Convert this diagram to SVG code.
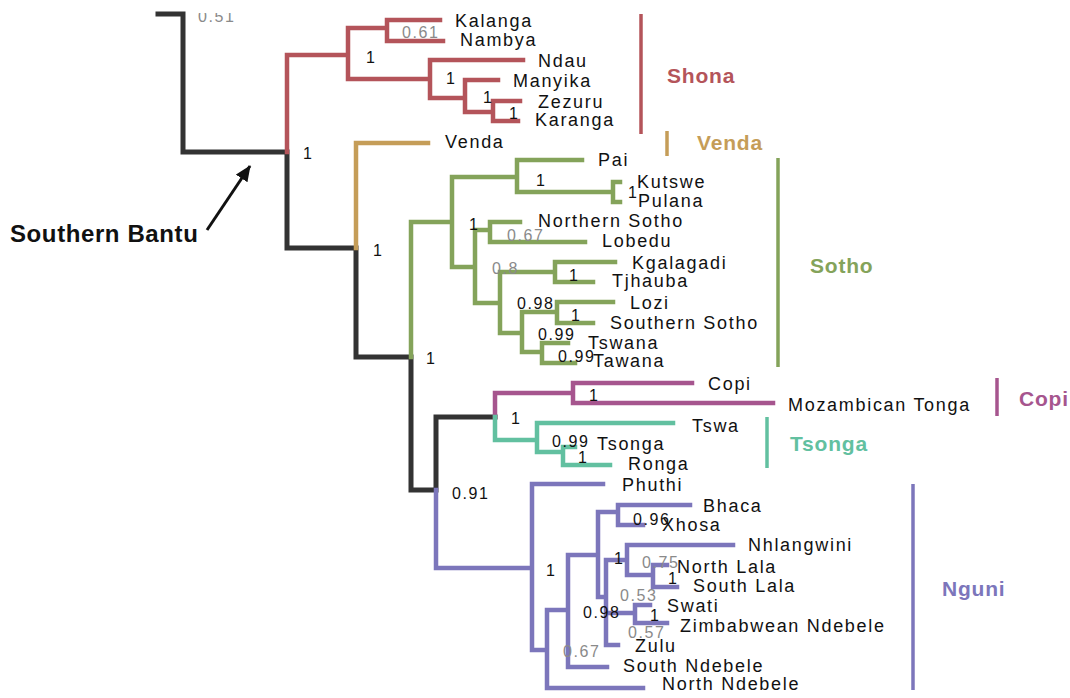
<svg xmlns="http://www.w3.org/2000/svg" width="1070" height="698" viewBox="0 0 1070 698">
<style>
.t{font-family:"Liberation Sans",Arial,sans-serif;font-size:18px;letter-spacing:1.7px;fill:#111}
.v{font-family:"Liberation Sans",Arial,sans-serif;font-size:16px;letter-spacing:1.6px;fill:#111}
.g{fill:#8a8a8a}
.b{font-family:"Liberation Sans",Arial,sans-serif;font-size:21px;font-weight:bold;letter-spacing:0.8px}
.e{fill:none;stroke-width:4.5;stroke-linecap:square;stroke-linejoin:miter}
.k{stroke:#333}
.r{stroke:#b4545a}
.n{stroke:#c59d58}
.gr{stroke:#84a35a}
.p{stroke:#a6558e}
.c{stroke:#62c0a0}
.u{stroke:#7c76bb}
.bar{stroke-width:3.5;fill:none}
</style>
<defs>
<clipPath id="topclip"><rect x="0" y="13" width="1070" height="690"/></clipPath>
<marker id="ah" markerUnits="userSpaceOnUse" markerWidth="18" markerHeight="18" refX="15" refY="7" orient="auto"><path d="M0,0 L16,7 L0,14 Z" fill="#111"/></marker>
</defs>
<rect width="1070" height="698" fill="#fff"/>

<g id="connectors">
<path class="e k" style="stroke-width:5" d="M158,14 H183 V152 H287 V248 H356 V357 H411 V490 H436 V417 H495"/>
<path class="e r" d="M287,152 V55 H348 M348,28 V79 M348,28 H387 M387,20 V41 M387,20 H440 M387,41 H443 M348,79 H430 M430,60 V98 M430,60 H523 M430,98 H465 M465,80 V112 M465,80 H498 M465,112 H493 M493,101 V121 M493,101 H520 M493,121 H518"/>
<path class="e n" d="M356,248 V143 H428"/>
<path class="e gr" d="M411,357 V222 H452 M452,177 V267 M452,177 H517 M517,160 V192 M517,160 H582 M517,192 H613 M613,182 V202 M613,182 H620 M613,202 H620 M452,267 H475 M475,230 V303 M475,230 H490 M490,222 V242 M490,222 H520 M490,242 H585 M475,303 H500 M500,272 V333 M500,272 H555 M555,262 V282 M555,262 H615 M555,282 H593 M500,333 H522 M522,312 V352 M522,312 H557 M557,302 V323 M557,302 H613 M557,323 H593 M522,352 H542 M542,343 V363 M542,343 H568 M542,363 H575"/>
<path class="e p" d="M495,417 V393 H573 M573,383 V403 M573,383 H692 M573,403 H773"/>
<path class="e c" d="M495,417 V440 H537 M537,423 V452 M537,423 H673 M537,452 H563 M563,447 V465 M563,447 H575 M563,465 H610"/>
<path class="e u" d="M436,490 V568 H532 M532,484 V650 M532,484 H603 M532,650 H547 M547,610 V688 M547,688 H643 M547,610 H568 M568,555 V667 M568,667 H607 M568,555 H598 M598,512 V597 M598,512 H618 M618,505 V525 M618,505 H690 M618,525 H643 M598,597 H606 M606,560 V645 M606,560 H627 M627,545 V575 M627,545 H733 M627,575 H653 M653,565 V587 M653,565 H667 M653,587 H677 M606,613 H635 M635,605 V623 M635,605 H650 M635,623 H667 M606,645 H618"/>
<path d="M207,230 L250,166" stroke="#111" stroke-width="3" marker-end="url(#ah)"/>
</g>

<g id="supports">
<text class="v g" x="198" y="22" clip-path="url(#topclip)">0.51</text>
<text class="v g" x="402" y="38">0.61</text>
<text class="v" x="366" y="63">1</text>
<text class="v" x="446" y="84">1</text>
<text class="v" x="483" y="103">1</text>
<text class="v" x="509" y="119">1</text>
<text class="v" x="303" y="159">1</text>
<text class="v" x="373" y="256">1</text>
<text class="v" x="426" y="364">1</text>
<text class="v" x="536" y="186">1</text>
<text class="v" x="628" y="198">1</text>
<text class="v" x="469" y="230">1</text>
<text class="v g" x="507" y="241">0.67</text>
<text class="v g" x="492" y="274">0.8</text>
<text class="v" x="569" y="281">1</text>
<text class="v" x="517" y="309">0.98</text>
<text class="v" x="571" y="321">1</text>
<text class="v" x="538" y="340">0.99</text>
<text class="v" x="558" y="362">0.99</text>
<text class="v" x="589" y="401">1</text>
<text class="v" x="511" y="424">1</text>
<text class="v" x="552" y="447">0.99</text>
<text class="v" x="578" y="463">1</text>
<text class="v" x="452" y="499">0.91</text>
<text class="v" x="546" y="576">1</text>
<text class="v" x="633" y="525">0.96</text>
<text class="v" x="614" y="564">1</text>
<text class="v g" x="642" y="568">0.75</text>
<text class="v" x="668" y="584">1</text>
<text class="v g" x="620" y="601">0.53</text>
<text class="v" x="583" y="618">0.98</text>
<text class="v" x="650" y="621">1</text>
<text class="v g" x="628" y="638">0.57</text>
<text class="v g" x="563" y="657">0.67</text>
</g>

<g id="Kalanga"><text class="t" x="455" y="27">Kalanga</text></g>
<g id="Nambya"><text class="t" x="460" y="46">Nambya</text></g>
<g id="Ndau"><text class="t" x="538" y="67">Ndau</text></g>
<g id="Manyika"><text class="t" x="513" y="87">Manyika</text></g>
<g id="Zezuru"><text class="t" x="538" y="108">Zezuru</text></g>
<g id="Karanga"><text class="t" x="535" y="126">Karanga</text></g>
<g id="Venda"><text class="t" x="445" y="148">Venda</text></g>
<g id="Pai"><text class="t" x="598" y="166">Pai</text></g>
<g id="Kutswe"><text class="t" x="637" y="188">Kutswe</text></g>
<g id="Pulana"><text class="t" x="638" y="207">Pulana</text></g>
<g id="NorthernSotho"><text class="t" x="538" y="227">Northern Sotho</text></g>
<g id="Lobedu"><text class="t" x="602" y="247">Lobedu</text></g>
<g id="Kgalagadi"><text class="t" x="632" y="269">Kgalagadi</text></g>
<g id="Tjhauba"><text class="t" x="612" y="287">Tjhauba</text></g>
<g id="Lozi"><text class="t" x="630" y="309">Lozi</text></g>
<g id="SouthernSotho"><text class="t" x="610" y="329">Southern Sotho</text></g>
<g id="Tswana"><text class="t" x="588" y="349">Tswana</text></g>
<g id="Tawana"><text class="t" x="593" y="367">Tawana</text></g>
<g id="Copi"><text class="t" x="708" y="390">Copi</text></g>
<g id="MozambicanTonga"><text class="t" x="788" y="411">Mozambican Tonga</text></g>
<g id="Tswa"><text class="t" x="692" y="432">Tswa</text></g>
<g id="Tsonga"><text class="t" x="597" y="450">Tsonga</text></g>
<g id="Ronga"><text class="t" x="628" y="470">Ronga</text></g>
<g id="Phuthi"><text class="t" x="622" y="491">Phuthi</text></g>
<g id="Bhaca"><text class="t" x="703" y="512">Bhaca</text></g>
<g id="Xhosa"><text class="t" x="662" y="531">Xhosa</text></g>
<g id="Nhlangwini"><text class="t" x="748" y="551">Nhlangwini</text></g>
<g id="NorthLala"><text class="t" x="677" y="573">North Lala</text></g>
<g id="SouthLala"><text class="t" x="693" y="592">South Lala</text></g>
<g id="Swati"><text class="t" x="667" y="612">Swati</text></g>
<g id="ZimbabweanNdebele"><text class="t" x="680" y="632">Zimbabwean Ndebele</text></g>
<g id="Zulu"><text class="t" x="635" y="652">Zulu</text></g>
<g id="SouthNdebele"><text class="t" x="623" y="672">South Ndebele</text></g>
<g id="NorthNdebele"><text class="t" x="662" y="690">North Ndebele</text></g>

<g id="group-Shona"><path class="bar" stroke="#b4545a" d="M641,14 V134"/><text class="b" fill="#b4545a" x="667" y="83">Shona</text></g>
<g id="group-Venda"><path class="bar" stroke="#c59d58" d="M667,131 V156"/><text class="b" fill="#c59d58" x="697" y="150">Venda</text></g>
<g id="group-Sotho"><path class="bar" stroke="#84a35a" d="M778,158 V367"/><text class="b" fill="#84a35a" x="810" y="273">Sotho</text></g>
<g id="group-Copi"><path class="bar" stroke="#a6558e" d="M997,378 V416"/><text class="b" fill="#a6558e" x="1019" y="406">Copi</text></g>
<g id="group-Tsonga"><path class="bar" stroke="#62c0a0" d="M767,417 V468"/><text class="b" fill="#62c0a0" x="790" y="451">Tsonga</text></g>
<g id="group-Nguni"><path class="bar" stroke="#7c76bb" d="M913,484 V690"/><text class="b" fill="#7c76bb" x="942" y="596">Nguni</text></g>
<g id="SouthernBantu"><text class="b" style="font-size:24px;letter-spacing:0.6px" fill="#111" x="10" y="242">Southern Bantu</text></g>
</svg>
